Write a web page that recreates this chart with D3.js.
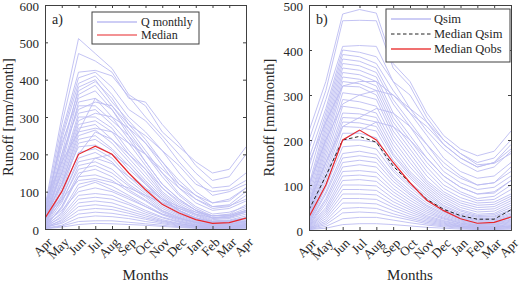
<!DOCTYPE html>
<html>
<head>
<meta charset="utf-8">
<script src="https://d3js.org/d3.v7.min.js"></script>
<style>
  body { margin: 0; background: #fff; }
  text { font-family: "Liberation Serif", "Times New Roman", serif; fill: #262626; }
</style>
</head>
<body>
<svg id="chart" width="520" height="282"></svg>
<script>
// month labels (Apr .. Apr)
var months = ["Apr", "May", "Jun", "Jul", "Aug", "Sep", "Oct", "Nov", "Dec", "Jan", "Feb", "Mar", "Apr"];

// panel a: observed monthly runoff, one row per year
var qMonthly = [
  [60, 300, 510, 470, 430, 360, 330, 260, 220, 180, 150, 160, 220],
  [50, 280, 470, 450, 420, 350, 340, 280, 230, 170, 130, 140, 200],
  [40, 260, 420, 425, 410, 355, 300, 250, 200, 150, 110, 115, 150],
  [30, 250, 405, 420, 380, 320, 290, 240, 180, 130, 90, 100, 120],
  [45, 240, 390, 410, 360, 300, 260, 210, 150, 100, 70, 80, 110],
  [25, 200, 380, 400, 340, 290, 240, 180, 120, 80, 55, 60, 90],
  [35, 220, 370, 395, 350, 280, 230, 170, 110, 70, 50, 55, 75],
  [20, 180, 360, 385, 330, 270, 210, 150, 95, 60, 40, 45, 60],
  [55, 230, 350, 370, 320, 260, 200, 140, 90, 55, 35, 40, 65],
  [15, 170, 340, 350, 300, 240, 180, 120, 80, 50, 30, 35, 50],
  [30, 190, 330, 330, 290, 250, 200, 150, 110, 80, 60, 62, 80],
  [20, 160, 310, 320, 280, 230, 170, 110, 70, 45, 28, 30, 45],
  [40, 150, 300, 300, 270, 210, 160, 100, 65, 40, 25, 28, 40],
  [10, 140, 280, 290, 260, 200, 150, 95, 60, 38, 22, 24, 35],
  [25, 130, 270, 280, 240, 190, 140, 90, 55, 35, 20, 22, 30],
  [30, 120, 250, 265, 230, 180, 130, 85, 50, 30, 18, 20, 28],
  [5, 110, 240, 250, 215, 170, 125, 80, 50, 30, 18, 19, 25],
  [20, 100, 230, 240, 210, 160, 120, 75, 48, 28, 16, 18, 22],
  [35, 120, 220, 225, 200, 150, 110, 70, 45, 28, 15, 16, 30],
  [15, 90, 205, 215, 190, 140, 100, 65, 40, 25, 14, 15, 20],
  [10, 80, 190, 205, 180, 130, 95, 60, 38, 22, 12, 13, 18],
  [25, 85, 180, 190, 175, 140, 110, 80, 60, 45, 35, 38, 55],
  [8, 70, 170, 180, 160, 120, 90, 55, 35, 20, 10, 12, 15],
  [20, 75, 160, 170, 150, 115, 85, 50, 32, 18, 10, 11, 20],
  [5, 60, 150, 160, 140, 105, 78, 48, 30, 17, 9, 10, 12],
  [12, 55, 140, 145, 130, 100, 75, 45, 28, 16, 8, 9, 15],
  [30, 80, 130, 135, 125, 110, 90, 70, 55, 40, 30, 32, 48],
  [4, 45, 120, 130, 115, 90, 65, 40, 25, 14, 7, 8, 10],
  [10, 40, 110, 125, 105, 85, 60, 38, 22, 12, 6, 7, 12],
  [15, 50, 100, 110, 100, 80, 60, 40, 28, 18, 12, 13, 22],
  [3, 35, 90, 95, 90, 70, 50, 32, 20, 11, 6, 6, 8],
  [8, 30, 80, 85, 80, 65, 45, 30, 18, 10, 5, 6, 10],
  [2, 25, 70, 75, 70, 55, 40, 25, 15, 8, 4, 5, 6],
  [6, 22, 60, 65, 60, 48, 35, 22, 14, 8, 4, 4, 8],
  [3, 18, 50, 55, 52, 42, 30, 20, 12, 7, 3, 4, 5],
  [5, 15, 40, 45, 42, 35, 26, 17, 10, 6, 3, 3, 6],
  [2, 10, 30, 35, 33, 28, 20, 14, 8, 5, 2, 2, 4],
  [1, 8, 20, 22, 22, 18, 14, 10, 6, 3, 2, 2, 3],
  [1, 5, 12, 15, 14, 12, 10, 7, 4, 2, 1, 1, 2],
  [20, 150, 290, 310, 300, 270, 230, 180, 130, 90, 70, 75, 110],
  [40, 200, 320, 340, 330, 280, 250, 210, 170, 120, 100, 105, 130],
  [70, 180, 260, 270, 260, 230, 200, 160, 120, 90, 60, 65, 100],
  [10, 120, 260, 350, 320, 250, 180, 120, 80, 50, 30, 32, 45],
  [15, 100, 200, 260, 240, 200, 160, 110, 75, 50, 35, 36, 50],
  [5, 60, 140, 190, 200, 170, 120, 80, 50, 30, 20, 22, 30]
];

// panel b: simulated monthly runoff, one row per year
var qSim = [
  [220, 330, 480, 490, 482, 370, 330, 260, 210, 180, 165, 175, 220],
  [200, 310, 465, 466, 465, 360, 320, 250, 200, 170, 150, 160, 200],
  [180, 290, 408, 410, 408, 330, 300, 240, 190, 160, 140, 150, 190],
  [160, 270, 400, 395, 385, 330, 270, 220, 180, 150, 130, 140, 175],
  [140, 260, 390, 385, 370, 310, 260, 210, 160, 130, 115, 120, 150],
  [120, 250, 380, 375, 360, 290, 240, 190, 140, 115, 100, 105, 130],
  [100, 240, 370, 365, 350, 280, 230, 175, 130, 105, 90, 95, 120],
  [90, 230, 360, 355, 340, 260, 210, 160, 120, 95, 80, 85, 110],
  [80, 220, 350, 345, 330, 250, 200, 150, 110, 85, 70, 75, 100],
  [70, 210, 340, 335, 320, 240, 190, 140, 100, 80, 65, 68, 90],
  [60, 200, 330, 325, 310, 230, 180, 130, 92, 72, 60, 62, 80],
  [55, 190, 320, 318, 300, 220, 170, 120, 85, 65, 55, 57, 75],
  [50, 180, 305, 300, 290, 210, 160, 110, 80, 60, 50, 52, 70],
  [45, 170, 290, 285, 275, 200, 150, 105, 75, 55, 45, 47, 65],
  [40, 160, 275, 270, 260, 190, 140, 100, 70, 50, 40, 42, 60],
  [35, 150, 260, 258, 250, 180, 130, 95, 65, 45, 35, 37, 55],
  [30, 140, 250, 248, 240, 170, 125, 90, 60, 42, 32, 34, 50],
  [28, 130, 240, 238, 230, 165, 120, 85, 55, 38, 30, 31, 45],
  [25, 120, 230, 228, 220, 155, 115, 80, 52, 35, 28, 29, 42],
  [22, 110, 215, 215, 205, 145, 105, 75, 48, 32, 25, 26, 38],
  [20, 100, 200, 200, 195, 135, 100, 70, 45, 30, 23, 24, 35],
  [18, 95, 185, 188, 180, 130, 95, 65, 42, 28, 21, 22, 32],
  [16, 85, 170, 175, 168, 120, 88, 60, 40, 26, 19, 20, 30],
  [14, 80, 160, 165, 160, 115, 82, 55, 37, 24, 17, 18, 27],
  [12, 70, 150, 155, 150, 108, 78, 52, 34, 22, 15, 16, 24],
  [10, 65, 140, 145, 140, 100, 72, 48, 31, 20, 14, 15, 22],
  [9, 58, 130, 132, 128, 92, 66, 44, 28, 18, 12, 13, 20],
  [8, 50, 120, 122, 118, 85, 60, 40, 26, 16, 11, 12, 18],
  [7, 45, 110, 112, 108, 78, 55, 36, 24, 15, 10, 11, 16],
  [6, 40, 100, 100, 98, 70, 50, 32, 21, 13, 9, 9, 14],
  [5, 35, 90, 90, 88, 63, 45, 29, 19, 12, 8, 8, 12],
  [4, 30, 80, 80, 78, 56, 40, 26, 17, 10, 7, 7, 10],
  [3, 25, 70, 70, 68, 50, 35, 23, 15, 9, 6, 6, 9],
  [3, 20, 60, 60, 58, 43, 30, 20, 13, 8, 5, 5, 8],
  [2, 16, 48, 50, 48, 36, 26, 17, 11, 7, 4, 4, 6],
  [2, 12, 38, 40, 38, 30, 22, 14, 9, 6, 3, 3, 5],
  [1, 8, 25, 28, 28, 22, 16, 11, 7, 4, 2, 2, 3],
  [1, 4, 12, 14, 14, 12, 9, 6, 4, 2, 1, 1, 2],
  [100, 200, 280, 300, 310, 300, 260, 230, 190, 160, 140, 150, 180],
  [60, 150, 230, 250, 270, 260, 230, 190, 150, 120, 100, 105, 140],
  [40, 120, 200, 220, 240, 230, 200, 160, 120, 95, 80, 82, 110],
  [150, 240, 320, 330, 330, 300, 270, 240, 200, 170, 145, 148, 170]
];

var medianObs = [29, 100, 200, 222, 200, 150, 105, 66, 43, 25, 15, 17, 29];
var medianSim = [45, 120, 200, 208, 195, 142, 104, 68, 46, 32, 24, 24, 45];

var yTicksA = [0, 100, 200, 300, 400, 500, 600];
var yTicksB = [0, 100, 200, 300, 400, 500];

var lineColor = "#bcbcf2";
var redColor = "#e8262b";
var axisColor = "#404040";

var svg = d3.select("#chart");

function drawPanel(opt) {
    var x = d3.scalePoint()
        .domain(d3.range(months.length))
        .range([opt.left, opt.right]);
    var y = d3.scaleLinear()
        .domain([0, opt.ymax])
        .range([opt.bottom, opt.top]);

    var g = svg.append("g");

    var clipId = "clip" + opt.name;
    g.append("clipPath").attr("id", clipId)
        .append("rect")
        .attr("x", opt.left).attr("y", opt.top)
        .attr("width", opt.right - opt.left).attr("height", opt.bottom - opt.top);

    var line = d3.line()
        .x(function(d, i) { return x(i); })
        .y(function(d) { return y(d); });

    var plot = g.append("g").attr("clip-path", "url(#" + clipId + ")");

    plot.selectAll(".year")
        .data(opt.series)
        .enter().append("path")
        .attr("d", line)
        .attr("fill", "none")
        .attr("stroke", lineColor)
        .attr("stroke-width", 0.9);

    if (opt.medianSim) {
        plot.append("path")
            .attr("d", line(opt.medianSim))
            .attr("fill", "none")
            .attr("stroke", "#222")
            .attr("stroke-width", 1)
            .attr("stroke-dasharray", "3.5,2.5");
    }
    plot.append("path")
        .attr("d", line(opt.median))
        .attr("fill", "none")
        .attr("stroke", redColor)
        .attr("stroke-width", 1.2);

    // axes, ticks pointing inward on all four sides
    var axL = g.append("g").attr("transform", "translate(" + opt.left + ",0)")
        .call(d3.axisLeft(y).tickValues(opt.yTicks).tickSize(-3).tickPadding(6));
    var axR = g.append("g").attr("transform", "translate(" + opt.right + ",0)")
        .call(d3.axisRight(y).tickValues(opt.yTicks).tickSize(-3).tickFormat(""));
    var axB = g.append("g").attr("transform", "translate(0," + opt.bottom + ")")
        .call(d3.axisBottom(x).tickSize(-3).tickFormat(""));
    var axT = g.append("g").attr("transform", "translate(0," + opt.top + ")")
        .call(d3.axisTop(x).tickSize(-3).tickFormat(""));

    [axL, axR, axB, axT].forEach(function(a) {
        a.select(".domain").attr("stroke", axisColor);
        a.selectAll(".tick line").attr("stroke", axisColor);
    });
    axL.selectAll("text")
        .style("font-family", "'Liberation Serif', serif")
        .style("font-size", "13px")
        .attr("dy", "0.4em")
        .attr("fill", "#262626");

    // rotated month labels
    g.selectAll(".mlab")
        .data(months)
        .enter().append("text")
        .attr("text-anchor", "end")
        .attr("font-size", "13px")
        .attr("transform", function(d, i) {
            return "translate(" + (x(i) + 8) + "," + (opt.bottom + 14) + ") rotate(-45)";
        })
        .text(function(d) { return d; });

    g.append("text")
        .attr("text-anchor", "middle")
        .attr("font-size", "15px")
        .attr("x", (opt.left + opt.right) / 2)
        .attr("y", 280)
        .text("Months");

    g.append("text")
        .attr("text-anchor", "middle")
        .attr("font-size", "14.5px")
        .attr("transform", "translate(" + opt.ylabX + "," + ((opt.top + opt.bottom) / 2) + ") rotate(-90)")
        .text("Runoff [mm/month]");

    g.append("text")
        .attr("font-size", "14px")
        .attr("x", opt.left + 7)
        .attr("y", opt.top + 19)
        .text(opt.name + ")");

    // legend
    var lg = opt.legend;
    g.append("rect")
        .attr("x", lg.x).attr("y", lg.y)
        .attr("width", lg.w).attr("height", lg.h)
        .attr("fill", "#fff")
        .attr("stroke", axisColor);
    lg.items.forEach(function(it, i) {
        var yy = lg.y + 10 + i * lg.step;
        g.append("line")
            .attr("x1", lg.x + 5).attr("x2", lg.x + 5 + lg.sample)
            .attr("y1", yy).attr("y2", yy)
            .attr("stroke", it.color)
            .attr("stroke-width", it.width)
            .attr("stroke-dasharray", it.dash || null);
        g.append("text")
            .attr("x", lg.x + lg.textX)
            .attr("y", yy + 4.2)
            .attr("font-size", lg.font)
            .text(it.label);
    });
}

drawPanel({
    name: "a", left: 45, right: 246, top: 5, bottom: 229, ymax: 600,
    yTicks: yTicksA, series: qMonthly, median: medianObs, ylabX: 13,
    legend: {
        x: 92, y: 12, w: 107, h: 32, step: 13, sample: 40, textX: 49, font: "12px",
        items: [
            { label: "Q monthly", color: lineColor, width: 1.5 },
            { label: "Median", color: redColor, width: 1.2 }
        ]
    }
});

drawPanel({
    name: "b", left: 309, right: 511, top: 5, bottom: 230, ymax: 500,
    yTicks: yTicksB, series: qSim, median: medianObs, medianSim: medianSim, ylabX: 274,
    legend: {
        x: 386, y: 9, w: 124, h: 53, step: 15, sample: 40, textX: 48, font: "12.5px",
        items: [
            { label: "Qsim", color: lineColor, width: 1.5 },
            { label: "Median Qsim", color: "#222", width: 1, dash: "3.5,2.5" },
            { label: "Median Qobs", color: "#f07070", width: 2 }
        ]
    }
});
</script>
</body>
</html>
